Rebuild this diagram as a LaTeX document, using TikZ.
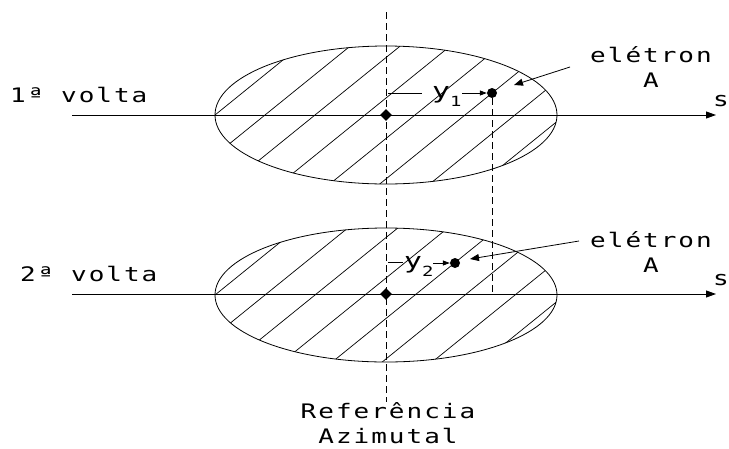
\documentclass[tikz,border=0pt]{standalone}
\usepackage{fontspec}
\usetikzlibrary{arrows.meta,shapes.geometric}
\newfontfamily\lblfont[FakeStretch=1.3,LetterSpace=10]{DejaVu Sans Mono}
\newfontfamily\yfont[FakeStretch=1.35]{DejaVu Sans Mono}
\tikzset{
  axis/.style={draw,line width=0.9pt,-{Triangle[length=10pt,width=7pt]}},
  ref line/.style={draw,line width=0.9pt,dash pattern=on 7pt off 4pt},
  rim/.style={draw,line width=0.8pt},
  hatch/.style={draw,line width=0.7pt},
  centre/.style={diamond,fill=black,inner sep=0pt,minimum size=12pt},
  electron/.style={circle,fill=black,inner sep=0pt,minimum size=10pt},
  label/.style={font=\lblfont\fontsize{20}{25.5}\selectfont,inner sep=0pt},
  offset label/.style={font=\yfont\fontsize{22}{22}\selectfont,inner sep=0pt},
  pointer/.style={draw,line width=0.8pt,-{Triangle[length=9pt,width=7pt]}},
  gap arrow/.style={draw,line width=0.8pt,-{Triangle[length=7pt,width=5pt]}}
}
\newcommand{\subidx}[1]{\raisebox{-8pt}{\fontsize{14}{14}\selectfont #1}}

\begin{document}
\begin{tikzpicture}[x=1pt,y=-1pt]
  \useasboundingbox (0,0) rectangle (729,448);
  % cross-sections of the bunch
  \foreach \yc/\ry in {115/69,295/67}{
    \begin{scope}
      \clip (386,\yc) ellipse [x radius=171, y radius=\ry];
      \foreach \k in {-5,...,5}
        \draw[hatch] ({365+50*\k-110},{\yc+89}) -- ({365+50*\k+110},{\yc-89});
    \end{scope}
    \draw[rim] (386,\yc) ellipse [x radius=171, y radius=\ry];
  }
  % axes
  \coordinate (a1) at (72,115);
  \coordinate (b1) at (716,115);
  \coordinate (a2) at (72,294);
  \coordinate (b2) at (716,294);
  \draw[axis] (a1) -- (b1);
  \draw[axis] (a2) -- (b2);
  \node[label,anchor=base west] (s1) at (713,106) {s};
  \node[label,anchor=base west] (s2) at (713,285) {s};
  \node[label,anchor=base west] (turn1) at (10,102) {1ª volta};
  \node[label,anchor=base west] (turn2) at (20,281) {2ª volta};
  % azimuthal reference
  \coordinate (top) at (386,12);
  \node[label,align=center,anchor=north] (ref) at (388,402) {Referência\\Azimutal};
  \draw[ref line] (top) -- (ref.north -| top);
  \node[centre] (c1) at (386,115) {};
  \node[centre] (c2) at (386,294) {};
  % electron A, first turn
  \node[electron] (e1) at (492,93) {};
  \draw[ref line] (e1) -- (e1 |- a2);
  \node[offset label,anchor=base west] (d1) at (432,98) {y\subidx{1}};
  \coordinate (k1) at (388,93);
  \draw[line width=0.8pt] (k1) -- (422,93);
  \draw[gap arrow] (462,93) -- (e1);
  \node[label,align=center,anchor=north] (lab1) at (651,46) {elétron\\A};
  \coordinate (p1) at (570,67);
  \coordinate (q1) at (514,85);
  \draw[pointer] (p1) -- (q1);
  % electron A, second turn
  \node[electron] (e2) at (455,263) {};
  \node[offset label,anchor=base west] (d2) at (404,268) {y\subidx{2}};
  \coordinate (k2) at (388,262);
  \draw[line width=0.8pt] (k2) -- (403,262);
  \draw[gap arrow] (433,263) -- (e2);
  \node[label,align=center,anchor=north] (lab2) at (651,231) {elétron\\A};
  \coordinate (p2) at (579,241);
  \coordinate (q2) at (470,259);
  \draw[pointer] (p2) -- (q2);
\end{tikzpicture}
\end{document}
